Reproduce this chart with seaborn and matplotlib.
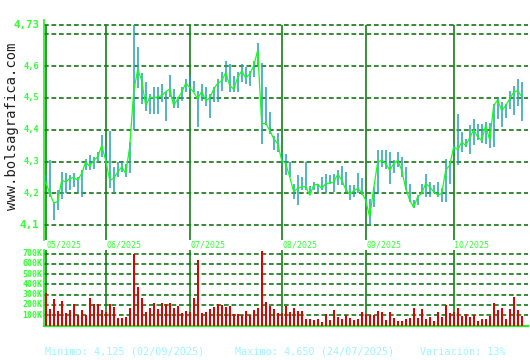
import numpy as np
import pandas as pd
import matplotlib
matplotlib.use("Agg")
import matplotlib.pyplot as plt
import seaborn as sns
from matplotlib.transforms import blended_transform_factory

# ---------------- data ----------------
close = [
    4.236, 4.200, 4.171, 4.174, 4.242, 4.236, 4.247, 4.250, 4.242, 4.263,
    4.299, 4.285, 4.304, 4.315, 4.351, 4.304, 4.242, 4.247, 4.268, 4.283,
    4.263, 4.346, 4.520, 4.590, 4.555, 4.476, 4.502, 4.500, 4.504, 4.507,
    4.520, 4.528, 4.476, 4.497, 4.518, 4.546, 4.533, 4.518, 4.497, 4.521,
    4.492, 4.500, 4.528, 4.546, 4.554, 4.580, 4.539, 4.528, 4.565, 4.585,
    4.563, 4.575, 4.601, 4.650, 4.419, 4.420, 4.398, 4.372, 4.356, 4.304,
    4.294, 4.252, 4.205, 4.216, 4.221, 4.221, 4.195, 4.226, 4.229, 4.216,
    4.231, 4.233, 4.236, 4.260, 4.242, 4.213, 4.198, 4.208, 4.216, 4.202,
    4.179, 4.125, 4.216, 4.299, 4.304, 4.294, 4.273, 4.294, 4.304, 4.273,
    4.216, 4.179, 4.156, 4.190, 4.200, 4.231, 4.221, 4.205, 4.195, 4.200,
    4.273, 4.289, 4.346, 4.338, 4.361, 4.351, 4.375, 4.400, 4.377, 4.367,
    4.414, 4.367, 4.476, 4.494, 4.460, 4.476, 4.497, 4.518, 4.523, 4.504,
]
high = [
    4.257, 4.306, 4.174, 4.210, 4.268, 4.263, 4.257, 4.263, 4.252, 4.273,
    4.309, 4.320, 4.315, 4.330, 4.384, 4.346, 4.395, 4.283, 4.299, 4.299,
    4.294, 4.361, 4.730, 4.660, 4.580, 4.549, 4.513, 4.535, 4.535, 4.544,
    4.518, 4.573, 4.528, 4.502, 4.535, 4.559, 4.570, 4.554, 4.523, 4.544,
    4.533, 4.513, 4.533, 4.559, 4.583, 4.615, 4.608, 4.570, 4.583, 4.606,
    4.596, 4.585, 4.617, 4.674, 4.611, 4.533, 4.455, 4.382, 4.390, 4.330,
    4.325, 4.299, 4.231, 4.257, 4.252, 4.299, 4.223, 4.236, 4.231, 4.252,
    4.260, 4.257, 4.260, 4.275, 4.285, 4.268, 4.226, 4.226, 4.263, 4.250,
    4.190, 4.184, 4.221, 4.335, 4.335, 4.335, 4.330, 4.304, 4.330, 4.315,
    4.283, 4.231, 4.179, 4.195, 4.229, 4.260, 4.236, 4.226, 4.236, 4.216,
    4.309, 4.299, 4.356, 4.450, 4.393, 4.372, 4.414, 4.434, 4.419, 4.419,
    4.424, 4.421, 4.481, 4.500, 4.486, 4.481, 4.523, 4.539, 4.559, 4.549,
]
low = [
    4.226, 4.190, 4.117, 4.148, 4.184, 4.200, 4.210, 4.221, 4.205, 4.190,
    4.273, 4.273, 4.278, 4.299, 4.315, 4.294, 4.216, 4.202, 4.252, 4.268,
    4.252, 4.263, 4.400, 4.530, 4.481, 4.460, 4.450, 4.450, 4.450, 4.486,
    4.429, 4.502, 4.469, 4.469, 4.492, 4.518, 4.518, 4.518, 4.410, 4.492,
    4.476, 4.436, 4.486, 4.486, 4.523, 4.549, 4.518, 4.518, 4.518, 4.549,
    4.544, 4.539, 4.565, 4.596, 4.356, 4.414, 4.388, 4.335, 4.330, 4.290,
    4.257, 4.252, 4.184, 4.164, 4.210, 4.210, 4.195, 4.210, 4.200, 4.210,
    4.200, 4.231, 4.205, 4.226, 4.226, 4.205, 4.179, 4.190, 4.200, 4.195,
    4.158, 4.101, 4.158, 4.200, 4.283, 4.278, 4.231, 4.263, 4.283, 4.252,
    4.210, 4.174, 4.153, 4.164, 4.200, 4.190, 4.190, 4.200, 4.190, 4.174,
    4.174, 4.231, 4.325, 4.289, 4.330, 4.346, 4.325, 4.351, 4.367, 4.358,
    4.356, 4.344, 4.346, 4.434, 4.408, 4.438, 4.466, 4.445, 4.476, 4.427,
]
volume_k = [
    315, 164, 262, 138, 243, 118, 154, 207, 100, 154,
    100, 272, 213, 213, 154, 128, 213, 184, 75, 75,
    85, 174, 700, 370, 272, 134, 174, 223, 164, 223,
    213, 223, 174, 193, 118, 144, 130, 272, 636, 125,
    134, 164, 184, 213, 200, 184, 193, 115, 115, 105,
    144, 105, 154, 174, 730, 233, 193, 164, 125, 120,
    193, 134, 174, 144, 144, 66, 66, 56, 66, 36,
    115, 56, 154, 85, 66, 105, 75, 56, 66, 134,
    115, 105, 105, 144, 134, 56, 134, 75, 46, 46,
    66, 75, 174, 75, 164, 66, 85, 46, 134, 85,
    200, 125, 130, 174, 95, 115, 85, 105, 46, 66,
    66, 95, 223, 154, 174, 66, 164, 282, 154, 95,
]
month_start = [0, 15, 36, 59, 80, 102]
month_labels = ["05/2025", "06/2025", "07/2025", "08/2025", "09/2025", "10/2025"]
price_grid = [4.1, 4.2, 4.3, 4.4, 4.5, 4.6, 4.7, 4.73]
price_tick_vals = [4.1, 4.2, 4.3, 4.4, 4.5, 4.6, 4.73]
price_tick_labels = ["4,1", "4,2", "4,3", "4,4", "4,5", "4,6", "4,73"]
vol_tick_vals = [100, 200, 300, 400, 500, 600, 700]
vol_tick_labels = ["100K", "200K", "300K", "400K", "500K", "600K", "700K"]
footer = ["Minimo: 4,125 (02/09/2025)", "Maximo: 4,650 (24/07/2025)", "Variación: 13%"]
watermark = "www.bolsagrafica.com"

# ---------------- style ----------------
sns.set_style("white")
plt.rcParams["font.family"] = ["DejaVu Sans Mono", "DejaVu Sans"]
plt.rcParams["lines.scale_dashes"] = False

GRID = "#006a00"
MONTH = "#128212"
BRIGHT = "#22ee22"
TICK = "#33ff33"
TEAL = "#1fa3b3"
LINE = "#11ff11"
RED = "#e00000"
FOOT = "#a0f4ff"
DASH = (0, (3.4, 2.0))

W, H = 530, 360


def rect(x0, y0, x1, y1):
    return [x0 / W, 1 - y1 / H, (x1 - x0) / W, (y1 - y0) / H]


days = np.arange(len(close))
df = pd.DataFrame({"day": days, "close": close, "high": high, "low": low,
                   "vol": volume_k})

fig = plt.figure(figsize=(W / 100, H / 100), dpi=100)
fig.patch.set_facecolor("white")

ax = fig.add_axes(rect(44, 20, 528, 240))
axv = fig.add_axes(rect(44, 250, 528, 325.5))

XL = (-0.425, 120.575)
for a in (ax, axv):
    a.set_facecolor("none")
    a.set_xlim(*XL)
    for s in a.spines.values():
        s.set_visible(False)
    a.set_xticks([])
    a.set_yticks([])
    a.spines["left"].set_visible(True)
    a.spines["left"].set_color(BRIGHT)
    a.spines["left"].set_linewidth(1.2)

# price panel
PY0, PY1 = 4.0538, 4.745
ax.set_ylim(PY0, PY1)
for g in price_grid:
    ax.axhline(g, color=GRID, lw=1.1, ls=DASH, zorder=1)
ax.vlines(month_start, PY0, 4.73, color=MONTH, lw=1.2, zorder=2)
ax.vlines(df["day"], df["low"], df["high"], color=TEAL, lw=1.1, zorder=3)
sns.lineplot(data=df, x="day", y="close", ax=ax, color=LINE, lw=0.9, zorder=4)
ax.set_xlabel("")
ax.set_ylabel("")
ax.set_xlim(*XL)
ax.set_ylim(PY0, PY1)

ytr = ax.get_yaxis_transform()
for v, lab in zip(price_tick_vals, price_tick_labels):
    big = lab in ("4,73", "4,1")
    ax.text(-0.010, v, lab, transform=ytr, ha="right", va="center",
            fontsize=7.8 if big else 6.2, fontweight="bold", color=TICK)

# volume panel
axv.set_ylim(0, 735)
for g in vol_tick_vals:
    axv.axhline(g, color=GRID, lw=1.1, ls=DASH, zorder=1)
axv.vlines(month_start, 0, 735, color=MONTH, lw=1.2, zorder=2)
axv.vlines(df["day"], 0, df["vol"], color=RED, lw=1.25, antialiased=False,
           zorder=3)
axv.spines["bottom"].set_visible(True)
axv.spines["bottom"].set_color(BRIGHT)
axv.spines["bottom"].set_linewidth(1.6)
vtr = axv.get_yaxis_transform()
for v, lab in zip(vol_tick_vals, vol_tick_labels):
    axv.text(-0.004, v, lab, transform=vtr, ha="right", va="center",
             fontsize=6.0, fontweight="bold", color=TICK)

# month labels
mtr = blended_transform_factory(ax.transData, fig.transFigure)
for m, lab in zip(month_start, month_labels):
    ax.text(m + 0.1, 1 - 244.5 / H, lab, transform=mtr, ha="left", va="center",
            fontsize=6.0, color=TICK, clip_on=False)

# footer
for x, t in zip([45, 235, 420], footer):
    fig.text(x / W, 1 - 352 / H, t, ha="left", va="center",
             fontsize=7.3, color=FOOT)

# watermark
fig.text(12.5 / W, 1 - 126 / H, watermark, rotation=90, ha="center",
         va="center", fontsize=10, color="#202020")

fig.savefig("out.png", dpi=100)
